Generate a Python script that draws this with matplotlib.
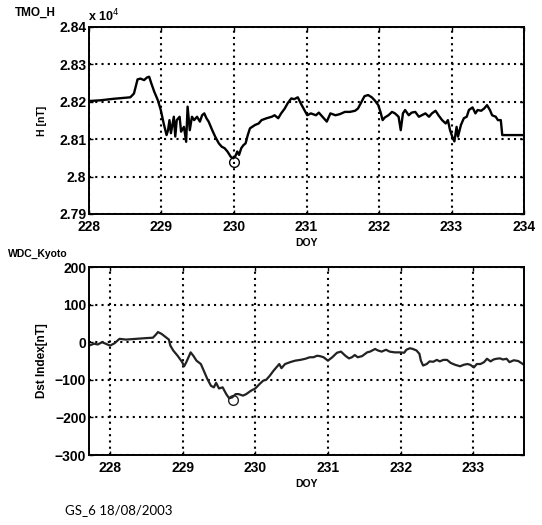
import numpy as np
import matplotlib
matplotlib.use("Agg")
import matplotlib.pyplot as plt
from matplotlib.ticker import FuncFormatter

# TMO H component (nT)
doy_h = [228.00, 228.16, 228.34, 228.57, 228.62, 228.67, 228.71, 228.76, 228.80, 228.83,
         228.86, 228.90, 228.95, 228.99, 229.03, 229.07, 229.09, 229.11, 229.13, 229.17,
         229.19, 229.21, 229.25, 229.27, 229.31, 229.34, 229.36, 229.39, 229.42, 229.45,
         229.49, 229.53, 229.56, 229.59, 229.62, 229.65, 229.70, 229.74, 229.79, 229.83,
         229.87, 229.91, 229.955, 229.99, 230.02, 230.045, 230.07, 230.10, 230.13, 230.16,
         230.19, 230.22, 230.25, 230.29, 230.34, 230.38, 230.45, 230.52, 230.56, 230.61,
         230.65, 230.70, 230.74, 230.79, 230.83, 230.88, 230.92, 230.97, 231.01, 231.06,
         231.13, 231.17, 231.24, 231.28, 231.33, 231.40, 231.46, 231.53, 231.60, 231.67,
         231.71, 231.77, 231.80, 231.85, 231.90, 231.94, 231.99, 232.02, 232.05, 232.08,
         232.13, 232.18, 232.22, 232.27, 232.30, 232.33, 232.36, 232.41, 232.45, 232.50,
         232.55, 232.59, 232.64, 232.69, 232.73, 232.78, 232.82, 232.87, 232.92, 232.95,
         232.98, 233.01, 233.04, 233.07, 233.09, 233.13, 233.17, 233.21, 233.24, 233.29,
         233.33, 233.36, 233.41, 233.45, 233.49, 233.53, 233.56, 233.61, 233.64, 233.68,
         233.70, 233.82, 234.00]
h_nT = [28202, 28204, 28208, 28212, 28222, 28260, 28262, 28258, 28265, 28267,
        28249, 28227, 28204, 28178, 28142, 28111, 28124, 28151, 28116, 28160,
        28107, 28151, 28160, 28120, 28133, 28093, 28187, 28124, 28160, 28151,
        28160, 28147, 28164, 28169, 28156, 28147, 28124, 28107, 28089, 28080,
        28076, 28067, 28053, 28049, 28055, 28067, 28058, 28076, 28084, 28089,
        28111, 28129, 28133, 28138, 28142, 28151, 28156, 28160, 28164, 28156,
        28169, 28182, 28196, 28209, 28207, 28212, 28196, 28178, 28164, 28169,
        28164, 28171, 28156, 28147, 28169, 28164, 28167, 28173, 28173, 28176,
        28182, 28204, 28215, 28218, 28212, 28204, 28191, 28173, 28151, 28158,
        28164, 28173, 28169, 28160, 28124, 28169, 28178, 28164, 28171, 28173,
        28160, 28164, 28169, 28160, 28169, 28176, 28164, 28151, 28142, 28151,
        28124, 28107, 28094, 28133, 28107, 28138, 28156, 28160, 28178, 28185,
        28169, 28178, 28176, 28182, 28191, 28178, 28164, 28160, 28151, 28151,
        28111, 28111, 28111]
h_min = (230.00, 28040)

# WDC Kyoto Dst index (nT)
doy_dst = [227.71, 227.78, 227.83, 227.89, 227.94, 228.00, 228.06, 228.13, 228.22, 228.36,
           228.50, 228.59, 228.63, 228.66, 228.71, 228.77, 228.81, 228.83, 228.87, 228.93,
           228.99, 229.02, 229.05, 229.08, 229.11, 229.15, 229.19, 229.25, 229.30, 229.34,
           229.39, 229.43, 229.46, 229.50, 229.55, 229.60, 229.64, 229.68, 229.73, 229.77,
           229.83, 229.875, 229.94, 230.00, 230.06, 230.11, 230.15, 230.20, 230.25, 230.29,
           230.33, 230.36, 230.41, 230.48, 230.55, 230.62, 230.69, 230.75, 230.80, 230.85,
           230.89, 230.94, 231.00, 231.06, 231.125, 231.18, 231.24, 231.29, 231.33, 231.37,
           231.41, 231.47, 231.54, 231.58, 231.65, 231.69, 231.74, 231.80, 231.85, 231.92,
           231.99, 232.05, 232.08, 232.13, 232.17, 232.22, 232.26, 232.28, 232.31, 232.36,
           232.40, 232.45, 232.50, 232.54, 232.59, 232.64, 232.69, 232.75, 232.82, 232.87,
           232.92, 232.96, 233.01, 233.05, 233.10, 233.15, 233.19, 233.24, 233.28, 233.32,
           233.37, 233.41, 233.46, 233.50, 233.56, 233.62, 233.70]
dst = [-9, -4, -6, 0, -4, -9, -3, 9, 7, 9,
       11, 12, 20, 27, 22, 13, 7, -9, -22, -36,
       -52, -64, -53, -40, -27, -37, -49, -58, -80, -98,
       -116, -120, -108, -123, -120, -138, -149, -147, -138, -138,
       -142, -138, -129, -123, -111, -102, -100, -89, -76, -67,
       -58, -69, -58, -53, -49, -47, -44, -40, -40, -36,
       -37, -40, -49, -40, -28, -25, -36, -43, -40, -34,
       -40, -37, -27, -25, -18, -22, -25, -20, -25, -27,
       -27, -28, -20, -16, -18, -22, -31, -49, -62, -58,
       -51, -52, -47, -51, -47, -47, -55, -60, -64, -60,
       -58, -60, -67, -58, -58, -53, -44, -51, -46, -44,
       -43, -46, -44, -53, -48, -50, -60]
dst_min = (229.69, -155)

h_ticks = [27900, 28000, 28100, 28200, 28300, 28400]
dst_ticks = [-300, -200, -100, 0, 100, 200]
doy_ticks = [228, 229, 230, 231, 232, 233, 234]

plt.rcParams['font.family'] = ['Liberation Sans', 'DejaVu Sans']

fig = plt.figure(figsize=(5.42, 5.25), dpi=100)
ax1 = fig.add_axes([0.1642, 0.5924, 0.8026, 0.3562])
ax2 = fig.add_axes([0.1642, 0.1333, 0.8026, 0.3581])

grid_kw = dict(color='black', linestyle=(0, (1, 2)), linewidth=1.5)


def style(ax):
    for s in ax.spines.values():
        s.set_linewidth(1.4)
    ax.tick_params(direction='in', length=3, width=1, labelsize=10, pad=2,
                   top=True, right=True)
    ax.tick_params(axis='x', pad=4.5)
    for lab in ax.get_xticklabels() + ax.get_yticklabels():
        lab.set_fontweight('bold')
    ax.grid(True, **grid_kw)
    ax.set_axisbelow(True)


ax1.plot(doy_h, h_nT, color='black', lw=1.7)
ax1.plot(*h_min, 'o', mfc='none', mec='black', ms=7, mew=1)
ax1.set_xlim(228, 234)
ax1.set_ylim(27900, 28400)
ax1.set_xticks(doy_ticks)
ax1.set_yticks(h_ticks)
ax1.yaxis.set_major_formatter(FuncFormatter(lambda v, p: '%g' % (v / 1e4)))
style(ax1)
ax1.set_xlabel('DOY', fontsize=7.5, fontweight='bold')
ax1.xaxis.label.set_va('center')
ax1.xaxis.set_label_coords(0.5, -0.155)
ax1.set_ylabel('H [nT]', fontsize=7.5, fontweight='bold')
ax1.yaxis.label.set_va('center')
ax1.yaxis.set_label_coords(-0.108, 0.5)

ax2.plot(doy_dst, dst, color='#222222', lw=1.6)
ax2.plot(*dst_min, 'o', mfc='none', mec='#222222', ms=7, mew=1)
ax2.set_xlim(227.71, 233.70)
ax2.set_ylim(-300, 200)
ax2.set_xticks(doy_ticks[:-1])
ax2.set_yticks(dst_ticks)
style(ax2)
ax2.set_xlabel('DOY', fontsize=7.5, fontweight='bold')
ax2.xaxis.label.set_va('center')
ax2.xaxis.set_label_coords(0.5, -0.152)
ax2.set_ylabel('Dst Index[nT]', fontsize=8.5, fontweight='bold')
ax2.yaxis.label.set_va('center')
ax2.yaxis.set_label_coords(-0.108, 0.5)

fig.text(15 / 542, 1 - 13 / 525, 'TMO_H', fontsize=8.5, va='center', ha='left',
         fontweight='bold')
fig.text(88 / 542, 1 - 16 / 525, r'x 10$^{4}$', fontsize=9, va='center', ha='left',
         fontweight='bold')
fig.text(8 / 542, 1 - 254 / 525, 'WDC_Kyoto', fontsize=7.5, va='center', ha='left',
         fontweight='bold')
fig.text(65 / 542, 1 - 510 / 525, 'GS_6 18/08/2003', fontsize=9.5, va='center',
         ha='left', family=['Lato', 'DejaVu Sans'], weight='normal')

fig.savefig('out.png', dpi=100)
